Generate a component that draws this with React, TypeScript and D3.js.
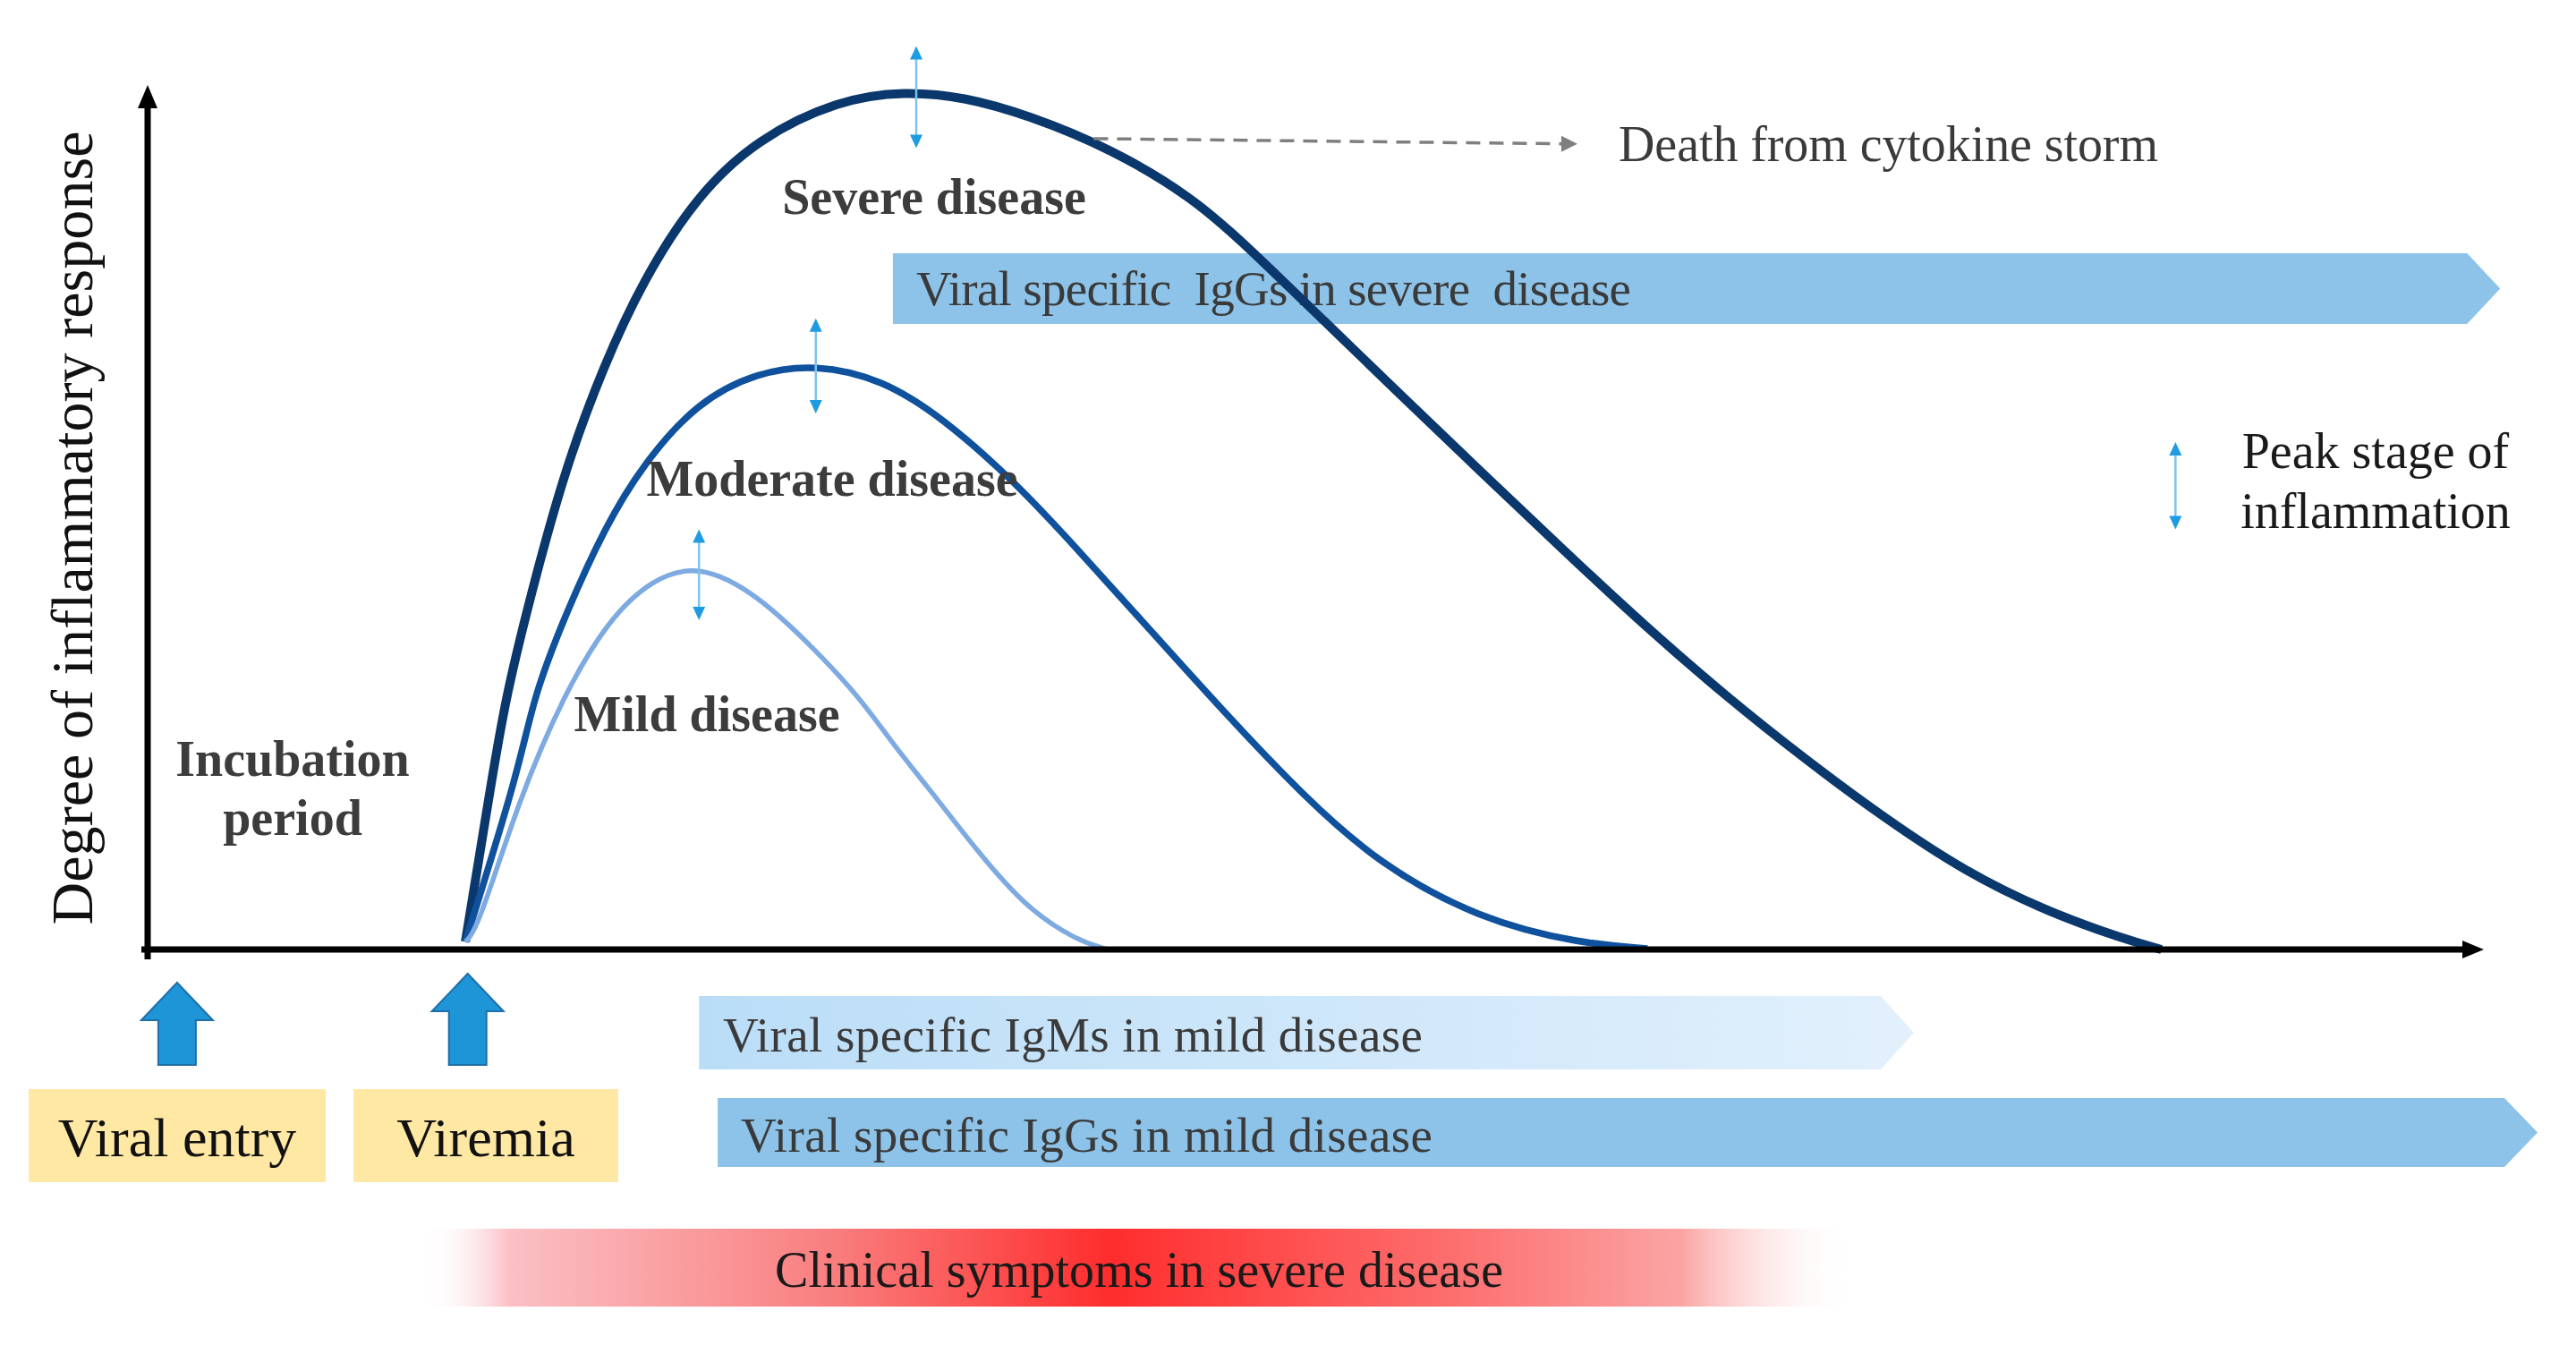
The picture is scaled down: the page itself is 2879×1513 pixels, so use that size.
import React from 'react';
import * as d3 from 'd3';

const W = 2879;
const H = 1513;

// Curves: [time, degree of inflammatory response] (0-100 units)
const severeCurve: [number, number][] = [
  [13.6, 0.9], [14.6, 17.4], [15.3, 29.1], [16.6, 43.1], [17.9, 55.8], [19.5, 67.4],
  [21.2, 77.4], [23.5, 87.2], [26.1, 93.8], [29.6, 98.3], [32.4, 99.3], [35.0, 98.6],
  [37.7, 96.5], [41.2, 92.7], [44.8, 86.9], [47.2, 81.0], [50.4, 72.6], [53.5, 64.5],
  [57.1, 55.2], [60.6, 46.2], [64.1, 37.4], [67.6, 29.2], [71.0, 21.9], [74.4, 15.1],
  [77.8, 9.0], [81.2, 4.5], [84.6, 1.2], [86.2, 0.0],
];
const moderateCurve: [number, number][] = [
  [13.6, 0.9], [15.9, 20.8], [16.5, 29.1], [17.9, 38.9], [19.6, 49.0], [21.2, 56.1],
  [23.5, 63.3], [26.1, 66.8], [28.6, 67.7], [31.4, 66.0], [34.0, 61.6], [37.2, 53.9],
  [39.8, 46.3], [43.0, 36.7], [46.3, 26.8], [49.5, 17.7], [52.7, 9.9], [57.0, 3.5],
  [61.3, 0.7], [64.2, 0.1],
];
const mildCurve: [number, number][] = [
  [13.6, 0.9], [14.1, 2.2], [15.9, 17.4], [17.8, 29.4], [19.7, 38.1], [21.6, 42.9],
  [23.6, 44.6], [26.1, 41.1], [28.6, 34.6], [30.5, 29.1], [32.0, 23.4], [33.4, 18.8],
  [35.5, 11.4], [37.6, 4.8], [39.8, 1.0], [41.1, 0.0],
];

const curveNames = ['Severe disease', 'Moderate disease', 'Mild disease'];
const curveData = [severeCurve, moderateCurve, mildCurve];

// Peak-of-inflammation markers: [time, top, bottom]
const peakMarkers: [number, number, number][] = [
  [32.9, 104.5, 92.7],
  [28.6, 73.0, 62.0],
  [23.6, 48.6, 38.1],
];
const legendMarker: [number, number, number] = [86.8, 58.7, 48.6];

// Death arrow: from -> to
const deathArrow: [number, number][] = [[40.5, 93.8], [61.2, 93.2]];

// Antibody bars: [label, start, end]
const antibodyLabels = [
  'Viral specific  IgGs in severe  disease',
  'Viral specific IgMs in mild disease',
  'Viral specific IgGs in mild disease',
];
const antibodyStart = [31.9, 23.6, 24.4];
const antibodyEnd = [100.7, 75.6, 102.3];

const clinicalLabel = 'Clinical symptoms in severe disease';
const clinicalSpan: [number, number] = [11.8, 73.0];

const eventLabels = ['Viral entry', 'Viremia'];
const eventTimes = [1.26, 13.7];

const yAxisLabel = 'Degree of inflammatory response';

export default function App() {
  const x = d3.scaleLinear().domain([0, 100]).range([165, 2776]);
  const y = d3.scaleLinear().domain([0, 100]).range([1061, 95]);
  const line = d3
    .line<[number, number]>()
    .x((d) => x(d[0]))
    .y((d) => y(d[1]))
    .curve(d3.curveBasis);

  const curveStyles = [
    { color: '#0B386C', width: 10 },
    { color: '#0F519C', width: 7.5 },
    { color: '#7EAAE2', width: 5.5 },
  ];
  const labelPos = [
    { cx: 1044, base: 239 },
    { cx: 930, base: 554 },
    { cx: 790, base: 817 },
  ];
  const barRows = [
    { top: 283, bottom: 362, textX: 1024, base: 341, textLen: 799, fill: '#8DC3E8' },
    { top: 1113, bottom: 1195, textX: 808, base: 1175, textLen: 782, fill: 'url(#igmGrad)' },
    { top: 1227, bottom: 1304, textX: 828, base: 1287, textLen: 773, fill: '#8DC3E8' },
  ];
  const notch = 37;
  const boxes = [
    { x0: 32, x1: 364 },
    { x0: 395, x1: 691 },
  ];
  const arrowTips = [1098, 1088];
  const serif = '"Liberation Serif", "Times New Roman", serif';

  const peakArrow = (m: [number, number, number], key: string) => {
    const cx = x(m[0]);
    const t = y(m[1]);
    const b = y(m[2]);
    return (
      <g key={key}>
        <line x1={cx} x2={cx} y1={t + 10} y2={b - 10} stroke="#7CC2EE" strokeWidth={2.5} />
        <path d={`M${cx},${t} L${cx - 7},${t + 15} L${cx + 7},${t + 15} Z`} fill="#1F9BE2" />
        <path d={`M${cx},${b} L${cx - 7},${b - 15} L${cx + 7},${b - 15} Z`} fill="#1F9BE2" />
      </g>
    );
  };

  const [d0, d1] = deathArrow;
  const dx0 = x(d0[0]);
  const dy0 = y(d0[1]);
  const dx1 = x(d1[0]);
  const dy1 = y(d1[1]);

  const cx0 = x(clinicalSpan[0]);
  const cx1 = x(clinicalSpan[1]);

  return (
    <svg
      width={W}
      height={H}
      viewBox={`0 0 ${W} ${H}`}
      style={{ position: 'absolute', left: 0, top: 0, background: '#fff' }}
      fontFamily={serif}
    >
      <defs>
        <linearGradient id="igmGrad" x1="0" x2="1" y1="0" y2="0">
          <stop offset="0" stopColor="#BADDF7" />
          <stop offset="1" stopColor="#E2F0FC" />
        </linearGradient>
        <linearGradient id="clinGrad" x1="0" x2="1" y1="0" y2="0">
          <stop offset="0" stopColor="#FFFFFF" stopOpacity="0" />
          <stop offset="0.06" stopColor="#FBC0C5" />
          <stop offset="0.28" stopColor="#F98080" />
          <stop offset="0.48" stopColor="#FF2D2D" />
          <stop offset="0.72" stopColor="#FD6E6E" />
          <stop offset="0.88" stopColor="#FBA4A4" />
          <stop offset="1" stopColor="#FFFFFF" stopOpacity="0" />
        </linearGradient>
      </defs>

      {/* antibody bars */}
      {antibodyLabels.map((lab, i) => {
        const r = barRows[i];
        const xs = x(antibodyStart[i]);
        const xe = x(antibodyEnd[i]);
        const mid = (r.top + r.bottom) / 2;
        return (
          <g key={lab}>
            <path
              d={`M${xs},${r.top} L${xe - notch},${r.top} L${xe},${mid} L${xe - notch},${r.bottom} L${xs},${r.bottom} Z`}
              fill={r.fill}
            />
            <text
              x={r.textX}
              y={r.base}
              fontSize={55}
              fill="#3A3A3A"
              textLength={r.textLen}
              lengthAdjust="spacing"
              style={{ whiteSpace: 'pre' }}
            >
              {lab}
            </text>
          </g>
        );
      })}

      {/* clinical symptoms bar */}
      <rect x={cx0} y={1373} width={cx1 - cx0} height={87} fill="url(#clinGrad)" />
      <text x={866} y={1438} fontSize={56} fill="#1A1A1A" textLength={814} lengthAdjust="spacing">
        {clinicalLabel}
      </text>

      {/* curves */}
      {curveData.map((pts, i) => (
        <path
          key={curveNames[i]}
          d={line(pts) || ''}
          fill="none"
          stroke={curveStyles[i].color}
          strokeWidth={curveStyles[i].width}
          strokeLinecap="butt"
        />
      ))}

      {/* axes */}
      <line x1={165} x2={165} y1={112} y2={1072} stroke="#000" strokeWidth={7} />
      <path d="M165,95 L154,121 L176,121 Z" fill="#000" />
      <line x1={158} x2={2758} y1={1061} y2={1061} stroke="#000" strokeWidth={7} />
      <path d="M2776,1061 L2752,1051 L2752,1071 Z" fill="#000" />

      {/* y label */}
      <text
        transform={`translate(103, 590) rotate(-90)`}
        textAnchor="middle"
        fontSize={66}
        fill="#111"
        textLength={887}
        lengthAdjust="spacing"
      >
        {yAxisLabel}
      </text>

      {/* peak markers */}
      {peakMarkers.map((m, i) => peakArrow(m, 'pk' + i))}
      {peakArrow(legendMarker, 'legend')}
      <text x={2655} y={523} fontSize={56} textAnchor="middle" fill="#1A1A1A">
        Peak stage of
      </text>
      <text x={2655} y={590} fontSize={56} textAnchor="middle" fill="#1A1A1A">
        inflammation
      </text>

      {/* curve labels */}
      {curveNames.map((n, i) => (
        <text
          key={'lab' + n}
          x={labelPos[i].cx}
          y={labelPos[i].base}
          fontSize={56}
          fontWeight="bold"
          textAnchor="middle"
          fill="#3C3C3C"
        >
          {n}
        </text>
      ))}
      <text x={327} y={867} fontSize={56} fontWeight="bold" textAnchor="middle" fill="#3C3C3C">
        Incubation
      </text>
      <text x={327} y={933} fontSize={56} fontWeight="bold" textAnchor="middle" fill="#3C3C3C">
        period
      </text>

      {/* death arrow */}
      <line
        x1={dx0}
        y1={dy0}
        x2={dx1 - 16}
        y2={dy1}
        stroke="#7F7F7F"
        strokeWidth={3.5}
        strokeDasharray="16 10"
      />
      <path d={`M${dx1},${dy1} L${dx1 - 18},${dy1 - 9} L${dx1 - 18},${dy1 + 9} Z`} fill="#7F7F7F" />
      <text x={1809} y={180} fontSize={56} fill="#3A3A3A" textLength={603} lengthAdjust="spacing">
        Death from cytokine storm
      </text>

      {/* event arrows and boxes */}
      {eventLabels.map((lab, i) => {
        const cx = x(eventTimes[i]);
        const tip = arrowTips[i];
        const headBase = tip + 42;
        const bottom = 1190;
        const hw = 40;
        const sw = 21;
        const b = boxes[i];
        return (
          <g key={lab}>
            <path
              d={`M${cx},${tip} L${cx + hw},${headBase} L${cx + sw},${headBase} L${cx + sw},${bottom} L${cx - sw},${bottom} L${cx - sw},${headBase} L${cx - hw},${headBase} Z`}
              fill="#1D95D7"
              stroke="#1F6FA8"
              strokeWidth={2}
              strokeLinejoin="miter"
            />
            <rect x={b.x0} y={1217} width={b.x1 - b.x0} height={104} fill="#FFE8A3" />
            <text x={(b.x0 + b.x1) / 2} y={1292} fontSize={62} textAnchor="middle" fill="#111">
              {lab}
            </text>
          </g>
        );
      })}
    </svg>
  );
}
